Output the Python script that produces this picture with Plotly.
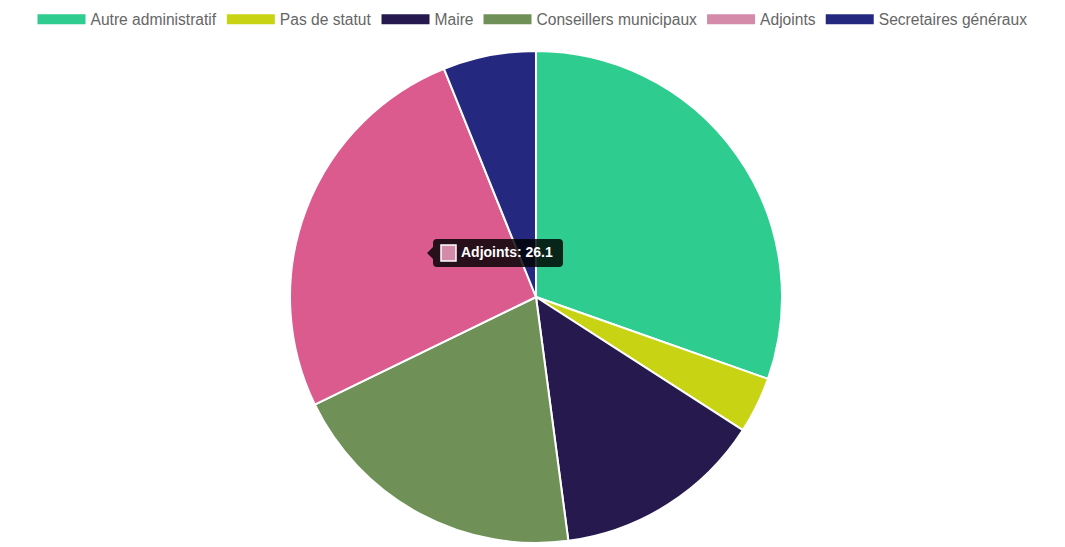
import plotly.graph_objects as go

labels = ["Autre administratif", "Pas de statut", "Maire", "Conseillers municipaux", "Adjoints", "Secretaires généraux"]
values = [30.4, 3.7, 13.8, 19.9, 26.1, 6.1]
slice_colors = ["#2ecc8f", "#c8d314", "#25194d", "#6f9158", "#db5b8f", "#25287f"]
legend_colors = ["#2ecc8f", "#c8d314", "#25194d", "#6f9158", "#d48ba9", "#25287f"]
hover_index = 4

W, H = 1065, 547

def px(x):
    return x / W

def py(y):
    return 1 - y / H

fig = go.Figure()

cx, cy, r = 536, 297, 246
fig.add_trace(go.Pie(
    labels=labels, values=values, sort=False, direction="clockwise", rotation=0,
    marker=dict(colors=slice_colors, line=dict(color="white", width=2)),
    textinfo="none", hoverinfo="none", showlegend=False,
    domain=dict(x=[px(cx - r), px(cx + r)], y=[py(cy + r), py(cy - r)]),
))

for lab, col in zip(labels, legend_colors):
    fig.add_trace(go.Scatter(
        x=[None], y=[None], mode="lines", name=lab,
        line=dict(color=col, width=13), hoverinfo="none",
    ))

# tooltip
bx0, bx1, by0, by1, rr = 433, 563, 239, 267, 4
path = (f"M {px(bx0+rr)},{py(by0)} L {px(bx1-rr)},{py(by0)} "
        f"Q {px(bx1)},{py(by0)} {px(bx1)},{py(by0+rr)} L {px(bx1)},{py(by1-rr)} "
        f"Q {px(bx1)},{py(by1)} {px(bx1-rr)},{py(by1)} L {px(bx0+rr)},{py(by1)} "
        f"Q {px(bx0)},{py(by1)} {px(bx0)},{py(by1-rr)} L {px(bx0)},{py(253+6)} "
        f"L {px(bx0-6)},{py(253)} L {px(bx0)},{py(253-6)} L {px(bx0)},{py(by0+rr)} "
        f"Q {px(bx0)},{py(by0)} {px(bx0+rr)},{py(by0)} Z")
shapes = [
    dict(type="path", xref="paper", yref="paper", path=path,
         fillcolor="rgba(0,0,0,0.82)", line=dict(width=0)),
    dict(type="rect", xref="paper", yref="paper",
         x0=px(441), x1=px(456), y0=py(261), y1=py(245),
         fillcolor=legend_colors[hover_index], line=dict(color="white", width=1.5)),
]
fig.add_annotation(
    x=px(459), y=py(252), xref="paper", yref="paper", xanchor="left", yanchor="middle",
    text=f"<b>{labels[hover_index]}: {values[hover_index]}</b>", showarrow=False,
    font=dict(family="Liberation Sans, Arial", size=14, color="white"),
)

fig.update_layout(
    width=W, height=H,
    margin=dict(l=0, r=0, t=0, b=0),
    paper_bgcolor="white", plot_bgcolor="white",
    xaxis=dict(visible=False), yaxis=dict(visible=False),
    shapes=shapes,
    legend=dict(orientation="h", x=0.5, xanchor="center", y=py(2.5), yanchor="top",
                font=dict(family="Liberation Sans, Arial", size=15.6, color="#666666"),
                itemwidth=48, bgcolor="rgba(0,0,0,0)"),
)

fig.write_html("out.html", config={"displayModeBar": False},
               post_script="document.body.style.margin='0';document.body.style.overflow='hidden';")
